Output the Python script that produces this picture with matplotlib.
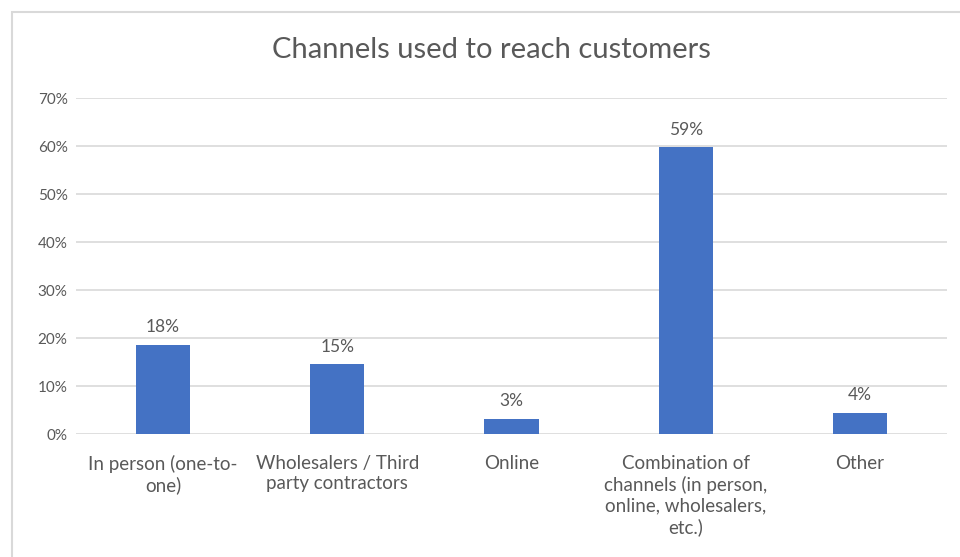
import matplotlib.pyplot as plt
from matplotlib.patches import Rectangle
from matplotlib.ticker import FuncFormatter, MultipleLocator

categories = ["In person (one-to-\none)", "Wholesalers / Third\nparty contractors", "Online",
              "Combination of\nchannels (in person,\nonline, wholesalers,\netc.)", "Other"]
values = [18.5, 14.5, 3.2, 59.7, 4.4]
value_labels = ["18%", "15%", "3%", "59%", "4%"]
title = "Channels used to reach customers"

plt.rcParams['font.family'] = ['Lato', 'DejaVu Sans']
text_color = "#595959"

fig = plt.figure(figsize=(9.6, 5.57), dpi=100)
fig.patches.append(Rectangle((12/960, -0.1), 1.2, (557-12)/557 + 0.1, transform=fig.transFigure,
                             fill=False, edgecolor="#D9D9D9", linewidth=1.5))
ax = fig.add_axes([76/960, 1-434/557, (947-76)/960, (434-98)/557])

x = list(range(len(categories)))
bars = ax.bar(x, values, width=0.31, color="#4472C4", zorder=3)
for xi, v, lab in zip(x, values, value_labels):
    ax.annotate(lab, (xi, v), xytext=(0, 7), textcoords="offset points", ha="center", va="bottom",
                fontsize=12.5, color=text_color)

ax.set_ylim(0, 70)
ax.set_xlim(-0.5, len(categories) - 0.5)
ax.yaxis.set_major_locator(MultipleLocator(10))
ax.yaxis.set_major_formatter(FuncFormatter(lambda v, p: f"{int(v)}%"))
ax.grid(axis="y", color="#D9D9D9", linewidth=1.2, zorder=0)
for s in ax.spines.values():
    s.set_visible(False)
ax.tick_params(axis="both", length=0, colors=text_color)
ax.tick_params(axis="y", labelsize=11, pad=6)
ax.set_xticks(x)
ax.set_xticklabels(categories, fontsize=13.5, color=text_color, linespacing=1.25)
ax.tick_params(axis="x", pad=15)

fig.text(491/960, 1-50/557, title, ha="center", va="center", fontsize=21, color=text_color)

fig.savefig("out.png", dpi=100)
